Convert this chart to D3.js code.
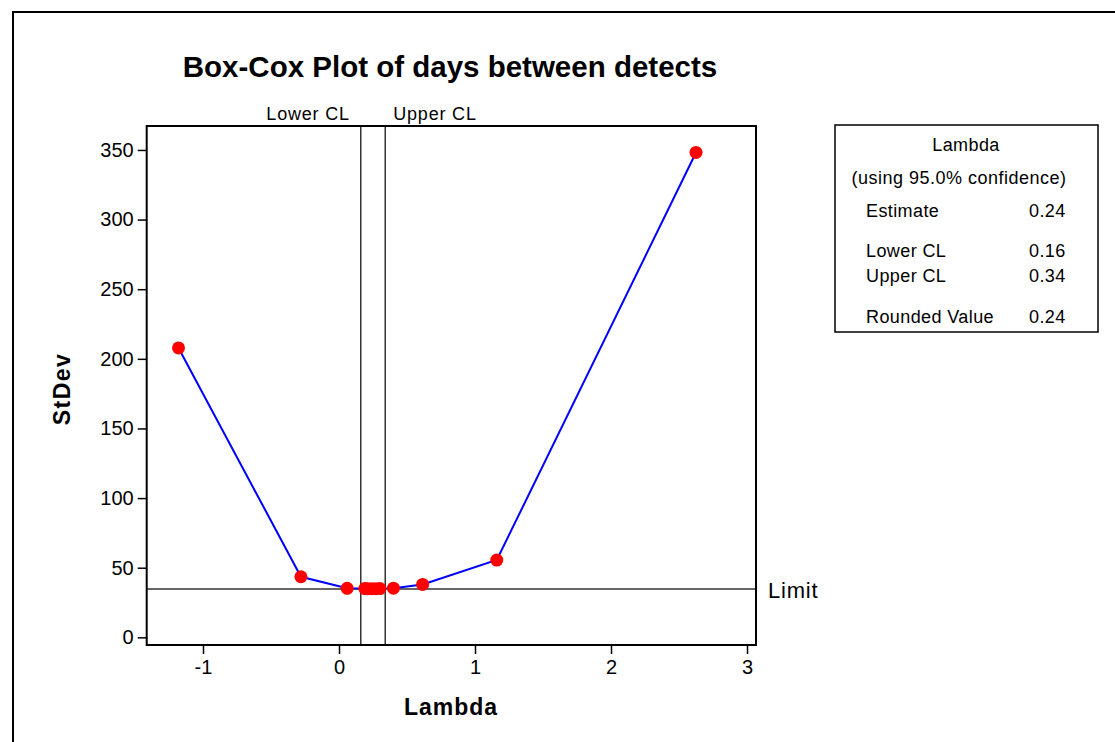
<!DOCTYPE html>
<html>
<head>
<meta charset="utf-8">
<script src="https://cdn.jsdelivr.net/npm/d3@7"></script>
<style>
  html, body { margin: 0; padding: 0; background: #fff; }
  svg { display: block; font-family: "Liberation Sans", Arial, sans-serif; }
</style>
</head>
<body>
<svg id="chart" width="1115" height="742"></svg>
<script>
// Box-Cox search: lambda values tried and the resulting standard deviation
const lambdaVals = [-1.18, -0.28, 0.06, 0.19, 0.21, 0.24, 0.27, 0.30, 0.40, 0.615, 1.16, 2.625];
const stdevVals  = [207.8, 43.5, 35.2, 35.0, 34.9, 34.9, 34.9, 35.0, 35.3, 38.0, 55.5, 348.2];

const xTicks = [-1, 0, 1, 2, 3];
const yTicks = [0, 50, 100, 150, 200, 250, 300, 350];

const lowerCL = 0.16;
const upperCL = 0.34;
const limitValue = 34.8;

const legendRows = [
  { label: "Estimate", value: "0.24" },
  { label: "Lower CL", value: "0.16" },
  { label: "Upper CL", value: "0.34" },
  { label: "Rounded Value", value: "0.24" }
];

const svg = d3.select("#chart");

// page border
svg.append("rect")
  .attr("x", 13).attr("y", 12)
  .attr("width", 1200).attr("height", 800)
  .attr("fill", "none").attr("stroke", "#000").attr("stroke-width", 2);

const frame = { left: 146.7, right: 756, top: 126, bottom: 645 };

const x = d3.scaleLinear().domain([-1.414, 3.066]).range([frame.left, frame.right]);
const y = d3.scaleLinear().domain([-5.5, 367.2]).range([frame.bottom, frame.top]);

// title
svg.append("text")
  .attr("x", 450).attr("y", 77)
  .attr("text-anchor", "middle")
  .attr("font-size", 29.5).attr("font-weight", "bold")
  .text("Box-Cox Plot of days between detects");

// axes (ticks outside the frame)
const xAxis = d3.axisBottom(x).tickValues(xTicks).tickSize(9).tickPadding(6).tickFormat(d3.format("d"));
const yAxis = d3.axisLeft(y).tickValues(yTicks).tickSize(9).tickPadding(4).tickFormat(d3.format("d"));

const gx = svg.append("g").attr("transform", `translate(0,${frame.bottom})`).call(xAxis);
const gy = svg.append("g").attr("transform", `translate(${frame.left},0)`).call(yAxis);
[gx, gy].forEach(g => {
  g.select(".domain").remove();
  g.selectAll(".tick line").attr("stroke", "#000").attr("stroke-width", 1.5);
  g.selectAll(".tick text").attr("font-size", 20).attr("fill", "#000")
    .attr("font-family", "'Liberation Sans', Arial, sans-serif");
});
gx.selectAll(".tick text").text(d => d < 0 ? "-" + Math.abs(d) : d);

// confidence limit lines
[lowerCL, upperCL].forEach(v => {
  svg.append("line")
    .attr("x1", x(v)).attr("x2", x(v))
    .attr("y1", frame.top).attr("y2", frame.bottom)
    .attr("stroke", "#333").attr("stroke-width", 1.5);
});
svg.append("text")
  .attr("x", x(lowerCL) - 11).attr("y", 120)
  .attr("text-anchor", "end").attr("font-size", 18).attr("letter-spacing", 0.8)
  .text("Lower CL");
svg.append("text")
  .attr("x", x(upperCL) + 8).attr("y", 120)
  .attr("text-anchor", "start").attr("font-size", 18).attr("letter-spacing", 0.8)
  .text("Upper CL");

// limit line across the frame
svg.append("line")
  .attr("x1", frame.left).attr("x2", frame.right)
  .attr("y1", y(limitValue)).attr("y2", y(limitValue))
  .attr("stroke", "#333").attr("stroke-width", 1.5);
svg.append("text")
  .attr("x", 768).attr("y", y(limitValue) + 9)
  .attr("font-size", 22).attr("letter-spacing", 0.8)
  .text("Limit");

// series
const pts = lambdaVals.map((l, i) => [l, stdevVals[i]]);
svg.append("path")
  .datum(pts)
  .attr("d", d3.line().x(d => x(d[0])).y(d => y(d[1])))
  .attr("fill", "none").attr("stroke", "#0000ff").attr("stroke-width", 2);
svg.selectAll("circle.pt").data(pts).join("circle")
  .attr("class", "pt")
  .attr("cx", d => x(d[0])).attr("cy", d => y(d[1]))
  .attr("r", 6.5).attr("fill", "#ff0000");

// plot frame
svg.append("rect")
  .attr("x", frame.left).attr("y", frame.top)
  .attr("width", frame.right - frame.left).attr("height", frame.bottom - frame.top)
  .attr("fill", "none").attr("stroke", "#000").attr("stroke-width", 2);

// axis titles
svg.append("text")
  .attr("x", 451).attr("y", 715)
  .attr("text-anchor", "middle").attr("font-size", 23).attr("font-weight", "bold")
  .attr("letter-spacing", 1)
  .text("Lambda");
svg.append("text")
  .attr("transform", "translate(70,389) rotate(-90)")
  .attr("text-anchor", "middle").attr("font-size", 23).attr("font-weight", "bold")
  .attr("letter-spacing", 1.5)
  .text("StDev");

// legend box
const lg = svg.append("g");
lg.append("rect")
  .attr("x", 835).attr("y", 125).attr("width", 263).attr("height", 207)
  .attr("fill", "#fff").attr("stroke", "#000").attr("stroke-width", 1.5);
lg.append("text").attr("x", 966).attr("y", 151).attr("text-anchor", "middle")
  .attr("font-size", 18).attr("letter-spacing", 0.4).text("Lambda");
lg.append("text").attr("x", 959).attr("y", 184).attr("text-anchor", "middle")
  .attr("font-size", 18).attr("letter-spacing", 0.5).text("(using 95.0% confidence)");
const rowY = [217, 257, 282, 323];
legendRows.forEach((r, i) => {
  lg.append("text").attr("x", 866).attr("y", rowY[i]).attr("font-size", 18)
    .attr("letter-spacing", 0.4).text(r.label);
  lg.append("text").attr("x", 1029).attr("y", rowY[i]).attr("font-size", 18)
    .attr("letter-spacing", 0.4).text(r.value);
});
</script>
</body>
</html>
